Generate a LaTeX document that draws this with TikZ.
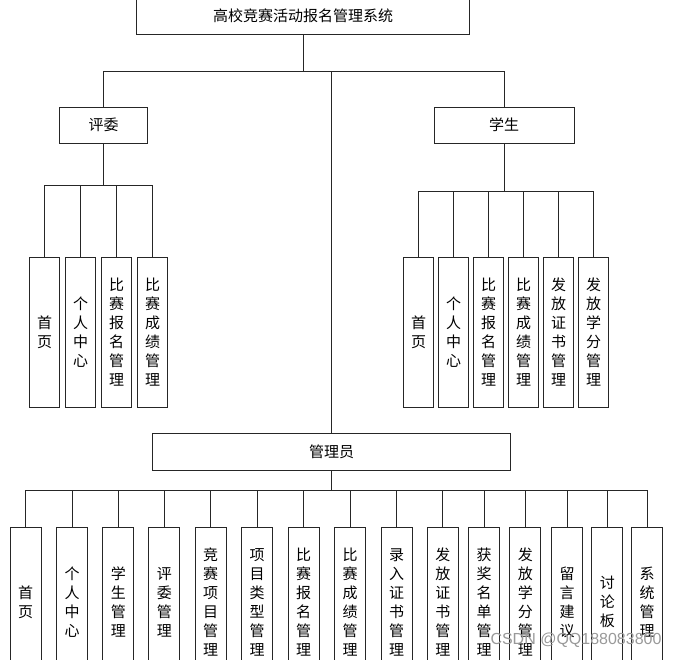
\documentclass[tikz,border=0pt]{standalone}
\usepackage{fontspec}
\setsansfont{Liberation Sans}
\newfontfamily\cjk{Noto Sans CJK SC}
\begin{document}
\begin{tikzpicture}[x=1pt, y=-1pt,
	every node/.style={draw=black!85, line width=0.8pt, font=\cjk\fontsize{15}{19}\selectfont, inner sep=0pt},
	link/.style={draw=black!85, line width=0.8pt},
	vbox/.style={minimum width=30pt, minimum height=150pt, align=center},
	hbox/.style={minimum height=36pt}]

\useasboundingbox (0,0) rectangle (679,659);
\clip (0,0) rectangle (679,659);

% Root
\node[hbox, minimum width=333pt, minimum height=37pt] (sys) at (303,16) {高校竞赛活动报名管理系统};

% Roles
\node[hbox, minimum width=88pt] (judge) at (103.5,125) {评委};
\node[hbox, minimum width=140pt] (stu) at (504,125) {学生};
\node[hbox, minimum width=358pt, minimum height=37pt] (admin) at (331.5,451.5) {管理员};

% Judge modules
\foreach \t [count=\i] in {首\\页, 个\\人\\中\\心, 比\\赛\\报\\名\\管\\理, 比\\赛\\成\\绩\\管\\理}
	\node[vbox] (j\i) at (8.5+36*\i,332) {\t};

% Student modules
\foreach \t [count=\i] in {首\\页, 个\\人\\中\\心, 比\\赛\\报\\名\\管\\理, 比\\赛\\成\\绩\\管\\理, 发\\放\\证\\书\\管\\理, 发\\放\\学\\分\\管\\理}
	\node[vbox] (s\i) at (383.7+35*\i,332) {\t};

% Admin modules
\foreach \t/\x [count=\i] in {首\\页/25.5, 个\\人\\中\\心/72, 学\\生\\管\\理/118.3, 评\\委\\管\\理/164.3,
	竞\\赛\\项\\目\\管\\理/210.7, 项\\目\\类\\型\\管\\理/257, 比\\赛\\报\\名\\管\\理/303.5,
	比\\赛\\成\\绩\\管\\理/350, 录\\入\\证\\书\\管\\理/396.5, 发\\放\\证\\书\\管\\理/442.8,
	获\\奖\\名\\单\\管\\理/484, 发\\放\\学\\分\\管\\理/525.3, 留\\言\\建\\议/567, 讨\\论\\板/607.3, 系\\统\\管\\理/647.2}
	\node[vbox, minimum width=31pt] (a\i) at (\x,602) {\t};

% Connections from root to roles
\foreach \n in {judge,stu,admin}
	\draw[link] (sys.south) -- ++(0,36) -| (\n.north);

% Connections from roles to modules
\foreach \i in {1,...,4}
	\draw[link] (judge.south) -- ++(0,42) -| (j\i.north);
\foreach \i in {1,...,6}
	\draw[link] (stu.south) -- ++(0,48) -| (s\i.north);
\foreach \i in {1,...,15}
	\draw[link] (admin.south) -- ++(0,20) -| (a\i.north);

% Watermark
\node[draw=none, text=black!40, font=\sffamily\fontsize{16}{16}\selectfont] (mark) at (576,640) {CSDN @QQ188083800};
\end{tikzpicture}
\end{document}
